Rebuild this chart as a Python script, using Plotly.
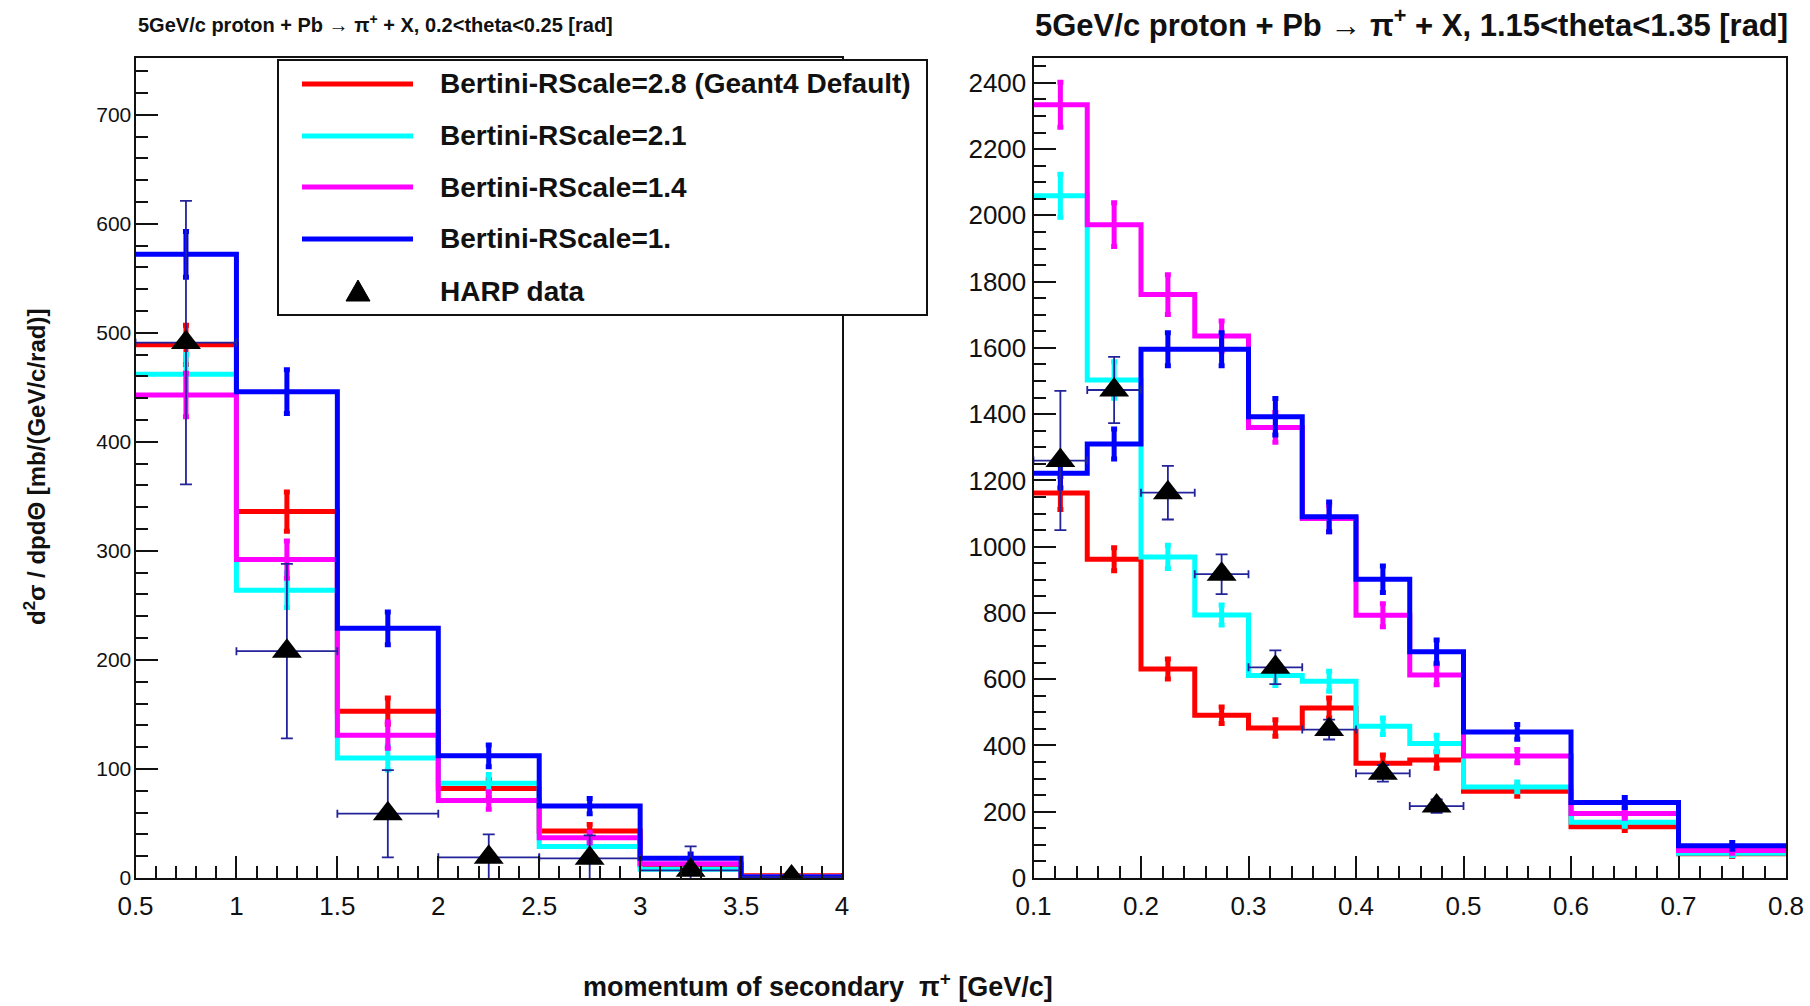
import plotly.graph_objects as go

W, H = 1810, 1006

# ---------------- data: left panel (0.2<theta<0.25) ----------------
left_edges = [0.5, 1.0, 1.5, 2.0, 2.5, 3.0, 3.5, 4.0]
left_red = [489, 336, 153, 82, 43, 12, 2]
left_red_err = [18, 18, 12, 8, 6, 3, 1]
left_cyan = [462, 264, 110, 87, 29, 8, 1]
left_cyan_err = [18, 16, 11, 8, 5, 3, 1]
left_magenta = [443, 292, 131, 71, 37, 13, 1]
left_magenta_err = [20, 17, 12, 8, 5, 3, 1]
left_blue = [572, 446, 229, 112, 66, 18, 1]
left_blue_err = [21, 20, 15, 10, 7, 4, 1]

left_harp_x = [0.75, 1.25, 1.75, 2.25, 2.75, 3.25, 3.75]
left_harp_y = [491, 208, 59, 19, 18, 7, 1]
left_harp_ey = [130, 80, 40, 21, 21, 22, 2]
left_harp_ex = [0.25, 0.25, 0.25, 0.25, 0.25, 0.25, 0.25]

# ---------------- data: right panel (1.15<theta<1.35) ----------------
right_edges = [0.1, 0.15, 0.2, 0.25, 0.3, 0.35, 0.4, 0.45, 0.5, 0.6, 0.7, 0.8]
right_red = [1162, 962, 631, 491, 453, 513, 346, 356, 262, 155, 73]
right_red_err = [50, 35, 30, 25, 25, 30, 25, 25, 15, 12, 8]
right_cyan = [2059, 1503, 969, 794, 611, 594, 458, 406, 275, 168, 75]
right_cyan_err = [65, 55, 35, 30, 30, 30, 25, 25, 15, 12, 8]
right_magenta = [2334, 1972, 1761, 1636, 1360, 1085, 793, 613, 368, 195, 83]
right_magenta_err = [68, 66, 60, 45, 45, 40, 35, 30, 20, 15, 8]
right_blue = [1222, 1310, 1596, 1596, 1392, 1090, 902, 683, 441, 228, 97]
right_blue_err = [45, 45, 50, 50, 55, 45, 40, 35, 22, 15, 10]

right_harp_x = [0.125, 0.175, 0.225, 0.275, 0.325, 0.375, 0.425, 0.475]
right_harp_y = [1260, 1473, 1163, 917, 636, 448, 316, 217]
right_harp_ey = [210, 100, 81, 60, 51, 30, 25, 20]
right_harp_ex = [0.025] * 8

series_names = [
    "Bertini-RScale=2.8 (Geant4 Default)",
    "Bertini-RScale=2.1",
    "Bertini-RScale=1.4",
    "Bertini-RScale=1.",
]
data_name = "HARP data"
series_colors = ["#ff0000", "#00ffff", "#ff00ff", "#0000ff"]
harp_err_color = "#23239a"

titles = [
    "5GeV/c proton + Pb \u2192 \u03c0<sup>+</sup> + X, 0.2<theta<0.25 [rad]",
    "5GeV/c proton + Pb \u2192 \u03c0<sup>+</sup> + X, 1.15<theta<1.35 [rad]",
]
x_title = "momentum of secondary  \u03c0<sup>+</sup> [GeV/c]"
y_title = "d<sup>2</sup>\u03c3 / dpd\u0398 [mb/(GeV/c/rad)]"

FONT = "Liberation Sans, Arial, Helvetica, sans-serif"

fig = go.Figure()


def add_panel(edges, vals_list, errs_list, hx, hy, hex_, hey, xa, ya):
    centers = [(edges[i] + edges[i + 1]) / 2 for i in range(len(edges) - 1)]
    for vals, errs, col, name in zip(vals_list, errs_list, series_colors, series_names):
        fig.add_trace(go.Scatter(
            x=edges, y=list(vals) + [vals[-1]], mode="lines",
            line=dict(color=col, width=5, shape="hv"),
            xaxis=xa, yaxis=ya, name=name, showlegend=False, hoverinfo="skip"))
        fig.add_trace(go.Scatter(
            x=centers, y=vals, mode="markers",
            marker=dict(size=0, color=col),
            error_y=dict(type="data", array=errs, color=col, thickness=5, width=3),
            xaxis=xa, yaxis=ya, showlegend=False, hoverinfo="skip"))
    fig.add_trace(go.Scatter(
        x=hx, y=hy, mode="markers",
        marker=dict(symbol="triangle-up", size=26, color="black"),
        error_y=dict(type="data", array=hey, color=harp_err_color, thickness=1.8, width=6),
        error_x=dict(type="data", array=hex_, color=harp_err_color, thickness=1.8, width=4),
        xaxis=xa, yaxis=ya, name=data_name, showlegend=False))


add_panel(left_edges,
          [left_red, left_cyan, left_magenta, left_blue],
          [left_red_err, left_cyan_err, left_magenta_err, left_blue_err],
          left_harp_x, left_harp_y, left_harp_ex, left_harp_ey, "x", "y")
add_panel(right_edges,
          [right_red, right_cyan, right_magenta, right_blue],
          [right_red_err, right_cyan_err, right_magenta_err, right_blue_err],
          right_harp_x, right_harp_y, right_harp_ex, right_harp_ey, "x2", "y2")


def px(p):
    return p / W


def py(p):
    return 1 - p / H


def axis(size, **kw):
    d = dict(showgrid=False, zeroline=False, showline=True, mirror=True,
             automargin=False,
             linecolor="#111", linewidth=2, ticks="inside", ticklen=22,
             tickwidth=1.5, tickcolor="#111",
             tickfont=dict(family=FONT, size=size, color="#111"),
             minor=dict(ticks="inside", ticklen=12, tickwidth=1.5,
                        tickcolor="#111", showgrid=False))
    d.update(kw)
    return d


ydom = [py(878), py(58)]
fig.update_layout(
    width=W, height=H, margin=dict(l=0, r=0, t=0, b=0, pad=0),
    paper_bgcolor="white", plot_bgcolor="white", showlegend=False,
    xaxis=axis(26, domain=[px(135.5), px(842)], range=[0.5, 4], tick0=0.5, dtick=0.5,
               minor_dtick=0.1, anchor="y", ticklabelstandoff=4),
    yaxis=axis(21, domain=ydom, range=[0, 752], dtick=100, minor_dtick=20,
               anchor="x", ticklabelstandoff=-2),
    xaxis2=axis(26, domain=[px(1033.5), px(1786)], range=[0.1, 0.8], tick0=0.1,
                dtick=0.1, minor_dtick=0.02, anchor="y2", ticklabelstandoff=4),
    yaxis2=axis(26, domain=ydom, range=[0, 2475], dtick=200, minor_dtick=50,
                anchor="x2", ticklabelstandoff=0),
)

annotations = [
    dict(text="<b>" + titles[0] + "</b>", x=px(136), y=py(23), xanchor="left",
         yanchor="middle", font=dict(family=FONT, size=20, color="#111")),
    dict(text="<b>" + titles[1] + "</b>", x=px(1033), y=py(23), xanchor="left",
         yanchor="middle", font=dict(family=FONT, size=31, color="#111")),
    dict(text="<b>" + x_title + "</b>", x=px(818), y=py(985), xanchor="center",
         yanchor="middle", font=dict(family=FONT, size=27, color="#111")),
    dict(text="<b>" + y_title + "</b>", x=px(35), y=py(467), xanchor="center",
         yanchor="middle", textangle=-90, font=dict(family=FONT, size=24, color="#111")),
]

# legend drawn manually
shapes = [dict(type="rect", xref="paper", yref="paper", x0=px(278), x1=px(927),
               y0=py(315), y1=py(60), line=dict(color="#111", width=2),
               fillcolor="white", layer="above")]
entry_y = [84, 136, 187, 239, 291]
for i, (name, col) in enumerate(zip(series_names, series_colors)):
    shapes.append(dict(type="line", xref="paper", yref="paper", x0=px(302), x1=px(413),
                       y0=py(entry_y[i]), y1=py(entry_y[i]),
                       line=dict(color=col, width=5), layer="above"))
    annotations.append(dict(text="<b>" + name + "</b>", x=px(438), y=py(entry_y[i]),
                            xanchor="left", yanchor="middle",
                            font=dict(family=FONT, size=28, color="#111")))
ty = entry_y[4]
shapes.append(dict(type="path", xref="paper", yref="paper",
                   path=f"M {px(346)},{py(ty + 10)} L {px(370)},{py(ty + 10)} L {px(358)},{py(ty - 11)} Z",
                   fillcolor="black", line=dict(color="black", width=1), layer="above"))
annotations.append(dict(text="<b>" + data_name + "</b>", x=px(438), y=py(ty),
                        xanchor="left", yanchor="middle",
                        font=dict(family=FONT, size=28, color="#111")))

for a in annotations:
    a.update(xref="paper", yref="paper", showarrow=False)
fig.update_layout(annotations=annotations, shapes=shapes)

fig.write_html("out.html", config={"displayModeBar": False},
               post_script="document.body.style.margin='0';document.body.style.overflow='hidden';")
